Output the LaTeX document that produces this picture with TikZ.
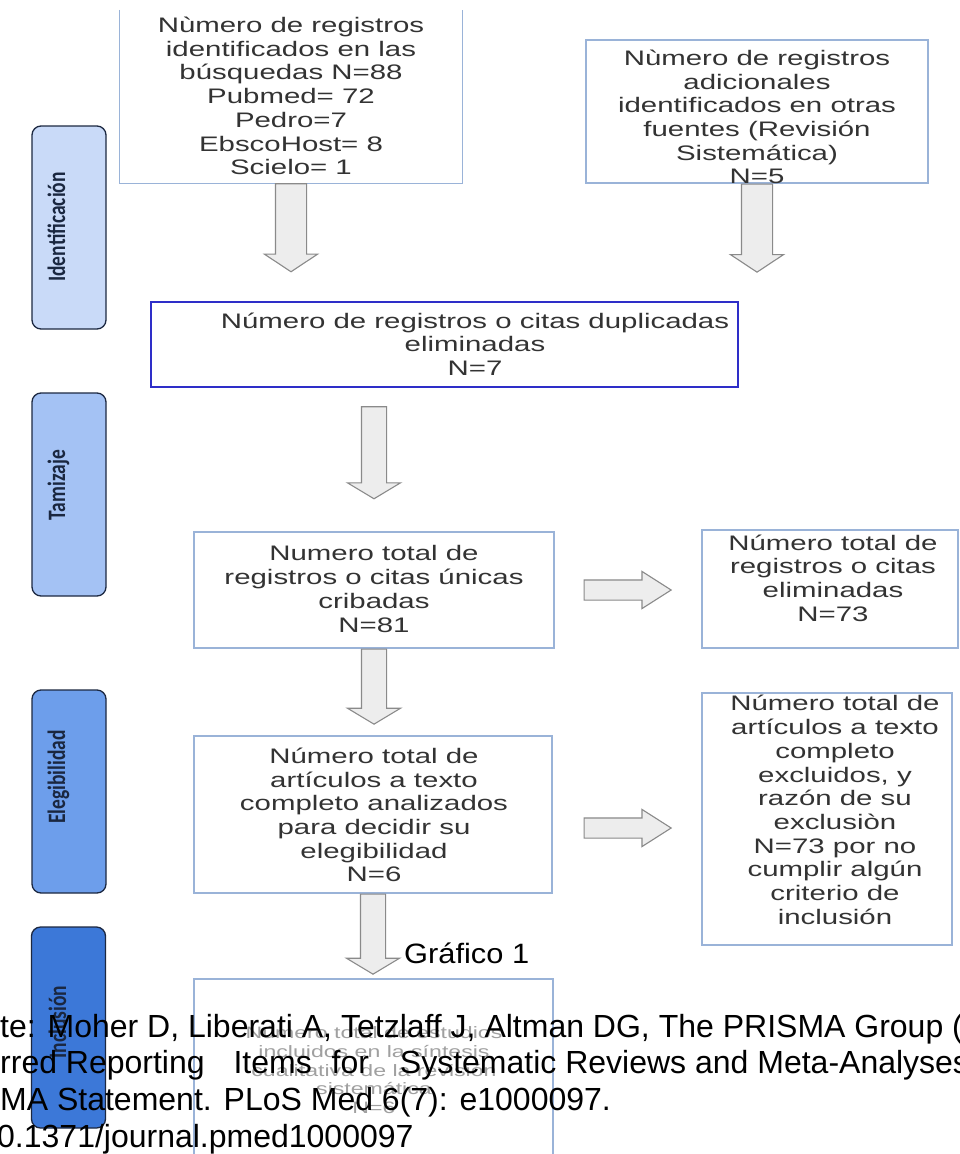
\documentclass[tikz,border=0pt]{standalone}
\usepackage{fontspec}
\setmainfont{Liberation Sans}
\newfontfamily\boxfont[FakeStretch=1.4]{Liberation Sans}
\newfontfamily\tabfont[FakeStretch=0.78]{Carlito}
\newfontfamily\grafont[FakeStretch=1.1]{Liberation Sans}
\usetikzlibrary{shapes.arrows}
\definecolor{boxline}{HTML}{9AB3D8}
\definecolor{dupline}{HTML}{2E2EC8}
\definecolor{txtgray}{HTML}{333333}
\definecolor{fadetxt}{HTML}{A0A0A0}
\definecolor{arrowfill}{HTML}{EDEDED}
\definecolor{arrowline}{HTML}{8A8A8A}
\definecolor{tabA}{HTML}{C9DAF8}
\definecolor{tabB}{HTML}{A4C2F4}
\definecolor{tabC}{HTML}{6D9EEB}
\definecolor{tabD}{HTML}{3C78D8}
\definecolor{tabline}{HTML}{1C2841}
\definecolor{tabtxt}{HTML}{1A2740}
\begin{document}
\begin{tikzpicture}[x=1pt,y=-1pt,
 box/.style={draw=boxline, line width=1.2pt, inner sep=0pt},
 boxtext/.style={font=\boxfont\fontsize{21}{23.7}\selectfont, text=txtgray, align=center, inner sep=0pt},
 tab/.style={draw=tabline, line width=1.3pt, rounded corners=9pt, minimum width=74pt, minimum height=203pt, inner sep=0pt},
 tablabel/.style={font=\tabfont\bfseries\fontsize{25}{25}\selectfont, text=tabtxt, rotate=90, anchor=base, inner sep=0pt},
 blockarrow/.style={single arrow, draw=arrowline, fill=arrowfill, line width=1.1pt, inner sep=0pt, minimum width=0pt},
 varrow/.style={blockarrow, single arrow head extend=11pt, single arrow tip angle=113, rotate=-90},
 sarrow/.style={blockarrow, single arrow head extend=14pt, single arrow tip angle=118, rotate=-90},
 harrow/.style={blockarrow, single arrow head extend=8.5pt, single arrow tip angle=65, minimum height=87pt},
 cite/.style={font=\fontsize{32}{36.7}\selectfont, text=black, anchor=base west, inner sep=0pt}
]
\useasboundingbox (0,0) rectangle (960,1154);
\fill[white] (0,0) rectangle (960,1154);
\clip (0,0) rectangle (960,1154);

% boxes
\node[inner sep=0pt, minimum width=342pt, minimum height=173pt] (b1) at (291,96.5) {};
\draw[boxline, line width=1.2pt] (b1.north west) -- (b1.south west) -- (b1.south east) -- (b1.north east);
\node[box, minimum width=342pt, minimum height=143pt] (b2) at (757,111.5) {};
\node[box, draw=dupline, line width=2.2pt, minimum width=587pt, minimum height=85pt] (b3) at (444.5,344.5) {};
\node[box, minimum width=360pt, minimum height=116pt] (b4) at (374,590) {};
\node[box, minimum width=256pt, minimum height=118pt] (b5) at (830,589) {};
\node[box, minimum width=358pt, minimum height=157pt] (b6) at (373,814.5) {};
\node[box, minimum width=250pt, minimum height=252pt] (b7) at (827,819) {};
\node[box, minimum width=359pt, minimum height=201pt] (b8) at (373.5,1079.5) {};

% block arrows
\node[varrow, minimum height=88pt, anchor=tail] (a1) at (b1.south) {\rule{0pt}{30pt}};
\node[varrow, minimum height=88pt, anchor=tail] (a2) at (b2.south) {\rule{0pt}{30pt}};
\node[sarrow, minimum height=92pt, anchor=tip] (a3) at ([yshift=32pt]b4.north) {\rule{0pt}{24pt}};
\node[sarrow, minimum height=75pt, anchor=tail] (a4) at (b4.south) {\rule{0pt}{24pt}};
\node[sarrow, minimum height=80pt, anchor=tail] (a5) at (b6.south) {\rule{0pt}{24pt}};
\node[harrow, anchor=tail] (h1) at ([xshift=29pt]b4.east) {\rule{0pt}{19pt}};
\node[harrow, anchor=tail] (h2) at ([xshift=31pt,yshift=-13.5pt]b6.east) {\rule{0pt}{19pt}};

% tabs
\node[tab, fill=tabA] (tab1) at (69,227.5) {};
\node[tab, fill=tabB] (tab2) at (69,494.5) {};
\node[tab, fill=tabC] (tab3) at (69,791.5) {};
\node[tab, fill=tabD, minimum height=201pt] (tab4) at (68.5,1027.5) {};
\node[tablabel] (l1) at (65,227) {Identificación};
\node[tablabel] (l2) at (65,485) {Tamizaje};
\node[tablabel] (l3) at (65,777) {Elegibilidad};
\node[tablabel] (l4) at (66,1022) {Inclusión};

% box texts
\node[boxtext] (t1) at (291,96) {Nùmero de registros\\identificados en las\\búsquedas N=88\\Pubmed= 72\\Pedro=7\\EbscoHost= 8\\Scielo= 1};
\node[boxtext] (t2) at (757,117) {Nùmero de registros\\adicionales\\identificados en otras\\fuentes (Revisión\\Sistemática)\\N=5};
\node[boxtext] (t3) at (475,344) {Número de registros o citas duplicadas\\eliminadas\\N=7};
\node[boxtext] (t4) at (374,589) {Numero total de\\registros o citas únicas\\cribadas\\N=81};
\node[boxtext] (t5) at (833,578) {Número total de\\registros o citas\\eliminadas\\N=73};
\node[boxtext] (t6) at (374,815) {Número total de\\artículos a texto\\completo analizados\\para decidir su\\elegibilidad\\N=6};
\node[boxtext] (t7) at (835,810) {Número total de\\artículos a texto\\completo\\excluidos, y\\razón de su\\exclusiòn\\N=73 por no\\cumplir algún\\criterio de\\inclusión};
\node[boxtext, font=\boxfont\fontsize{16.5}{18.8}\selectfont, text=fadetxt] (t8) at (374,1070) {Número total de estudios\\incluidos en la síntesis\\cualitativa de la revisión\\sistemática\\N=6};

% caption and source
\node[font=\grafont\fontsize{28}{28}\selectfont, anchor=base west, inner sep=0pt] (g) at (404,963) {Gráfico 1};
\node[cite] (c1) at (0,1037) {te: Moher D, Liberati A, Tetzlaff J, Altman DG, The PRISMA Group (};
\node[cite] (c2) at (0,1073) {rred Reporting\hspace{20pt} Items\hspace{11pt} for\hspace{22pt} Systematic Reviews and Meta-Analyses};
\node[cite] (c3) at (0,1110) {MA Statement. PLoS Med 6(7): e1000097.};
\node[cite] (c4) at (-3,1147) {0.1371/journal.pmed1000097};
\end{tikzpicture}
\end{document}
